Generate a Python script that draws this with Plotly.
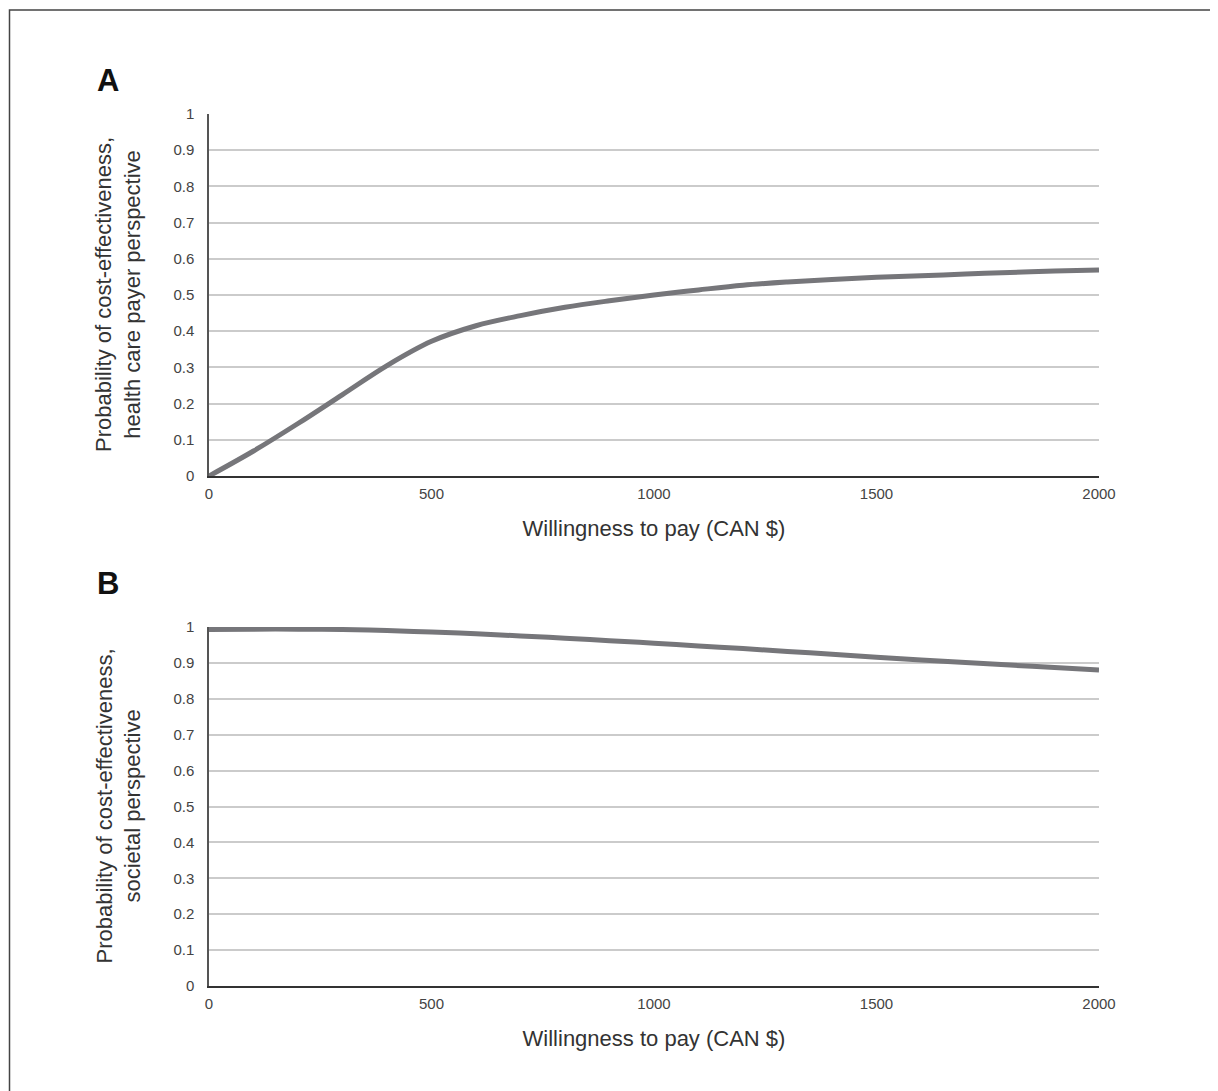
import plotly.graph_objects as go
from plotly.subplots import make_subplots

# Data
wtp = [0, 100, 200, 300, 400, 500, 600, 700, 800, 900, 1000,
       1100, 1200, 1300, 1400, 1500, 1600, 1700, 1800, 1900, 2000]
prob_payer = [0.0, 0.069, 0.145, 0.225, 0.305, 0.372, 0.415, 0.443, 0.466, 0.484, 0.5,
              0.514, 0.527, 0.536, 0.543, 0.549, 0.553, 0.558, 0.562, 0.566, 0.569]
prob_societal = [0.993, 0.994, 0.994, 0.993, 0.99, 0.986, 0.981, 0.975, 0.969, 0.962, 0.955,
                 0.947, 0.940, 0.932, 0.924, 0.916, 0.908, 0.901, 0.894, 0.887, 0.880]
x_ticks = [0, 500, 1000, 1500, 2000]
y_ticks = [0, 0.1, 0.2, 0.3, 0.4, 0.5, 0.6, 0.7, 0.8, 0.9, 1]
y_tick_text = ["0", "0.1", "0.2", "0.3", "0.4", "0.5", "0.6", "0.7", "0.8", "0.9", "1"]
x_title = "Willingness to pay (CAN $)"
y_title_a = "Probability of cost-effectiveness,<br>health care payer perspective"
y_title_b = "Probability of cost-effectiveness,<br>societal perspective"

OFF = 8  # page body margin
W, H = 1218 - OFF, 1091 - OFF
L, R, T, B = 209 - OFF, 1218 - 1099, 114 - OFF, 1091 - 986
PH = H - T - B
PW = W - L - R

def py(p):
    return (H - B - (p - OFF)) / PH

def px(p):
    return ((p - OFF) - L) / PW

FONT = "Liberation Sans, Arial, sans-serif"
LINE_COLOR = "#76767a"
GRID = "#cbcbcb"

fig = make_subplots(rows=2, cols=1)
fig.add_trace(go.Scatter(x=wtp, y=prob_payer, mode="lines",
                         line=dict(color=LINE_COLOR, width=5, shape="spline", smoothing=1.0),
                         showlegend=False), row=1, col=1)
fig.add_trace(go.Scatter(x=wtp, y=prob_societal, mode="lines",
                         line=dict(color=LINE_COLOR, width=5, shape="spline", smoothing=1.0),
                         showlegend=False), row=2, col=1)

xaxis_common = dict(range=[0, 2000], tickvals=x_ticks, showgrid=False, zeroline=False,
                    showline=True, linecolor="#333333", linewidth=1.5, ticks="",
                    tickfont=dict(family=FONT, size=15, color="#444444"),
                    ticklabelstandoff=3,
                    title=dict(text=x_title, font=dict(family=FONT, size=22, color="#333333"),
                               standoff=20))
yaxis_common = dict(range=[0, 1], tickvals=y_ticks, ticktext=y_tick_text, showgrid=True,
                    gridcolor=GRID, gridwidth=2, zeroline=False,
                    showline=True, linecolor="#555555", linewidth=1.5, ticks="",
                    tickfont=dict(family=FONT, size=15, color="#444444"),
                    ticklabelstandoff=10)

fig.update_layout(
    width=W, height=H,
    margin=dict(l=L, r=R, t=T, b=B),
    paper_bgcolor="white", plot_bgcolor="white",
    xaxis=dict(domain=[0, 1], anchor="y", **xaxis_common),
    yaxis=dict(domain=[py(476), 1], anchor="x", **yaxis_common),
    xaxis2=dict(domain=[0, 1], anchor="y2", **xaxis_common),
    yaxis2=dict(domain=[0, py(627)], anchor="x2", **yaxis_common),
    font=dict(family=FONT),
)

# y titles as annotations
for text, ycen in [(y_title_a, (114 + 476) / 2), (y_title_b, (627 + 986) / 2)]:
    fig.add_annotation(text=text, xref="paper", yref="paper", x=px(118), y=py(ycen),
                       xanchor="center", yanchor="middle", textangle=-90, showarrow=False,
                       font=dict(family=FONT, size=22, color="#333333"))

# Panel letters
for letter, ycen in [("A", 80), ("B", 583)]:
    fig.add_annotation(text="<b>%s</b>" % letter, xref="paper", yref="paper", x=px(95), y=py(ycen),
                       xanchor="left", yanchor="middle", showarrow=False,
                       font=dict(family=FONT, size=31, color="#111111"))

# outer frame
fig.add_shape(type="rect", xref="paper", yref="paper",
              x0=px(9.5), x1=px(1240), y0=py(1120), y1=py(10),
              line=dict(color="#444444", width=1.5), fillcolor="rgba(0,0,0,0)", layer="below")

fig.write_html("out.html")
